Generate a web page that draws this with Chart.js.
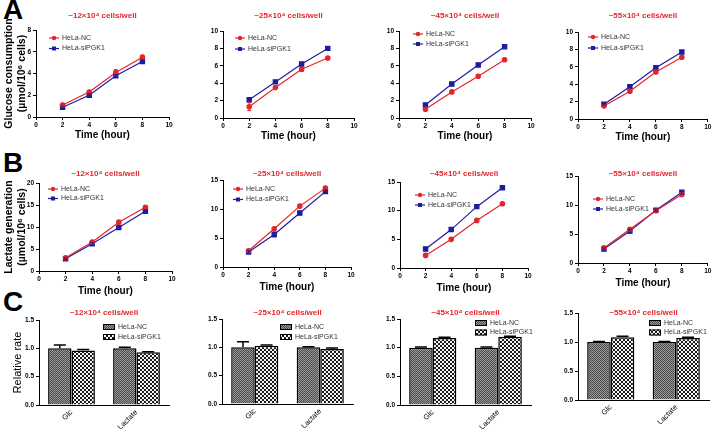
<!DOCTYPE html>
<html>
<head>
<meta charset="utf-8">
<script src="https://cdn.jsdelivr.net/npm/chart.js@4.4.0/dist/chart.umd.min.js"></script>
<style>
  body { margin: 0; width: 713px; height: 430px; background: #fff; position: relative; overflow: hidden; }
  canvas { position: absolute; }
  .tag { position: absolute; font: bold 28px "Liberation Sans", Arial, sans-serif; line-height: 1; color: #000; }
</style>
</head>
<body>
<div class="tag" style="left:3px;top:-4px">A</div>
<div class="tag" style="left:3px;top:149px">B</div>
<div class="tag" style="left:3px;top:288px">C</div>
<script>
// ---- data ----
const hours = [2, 4, 6, 8];
const densities = ["~12×10⁴ cells/well", "~25×10⁴ cells/well", "~45×10⁴ cells/well", "~55×10⁴ cells/well"];
const groups = ["HeLa-NC", "HeLa-siPGK1"];

// glucose consumption (µmol/10^6 cells), one row per cell density
const glcNC = [[1.1, 2.3, 4.1, 5.5], [1.3, 3.5, 5.6, 6.9], [1.0, 3.0, 4.8, 6.7], [1.5, 3.2, 5.4, 7.1]];
const glcNCErr = [[0.15, 0.1, 0.25, 0.2], [0.45, 0.1, 0.25, 0.1], [0.08, 0.05, 0.1, 0.05], [0.1, 0.1, 0.1, 0.1]];
const glcSi = [[0.9, 2.0, 3.8, 5.1], [2.1, 4.15, 6.2, 8.0], [1.5, 3.9, 6.1, 8.2], [1.7, 3.7, 5.9, 7.7]];
const glcSiErr = [[0.1, 0.15, 0.1, 0.15], [0.1, 0.1, 0.2, 0.1], [0.1, 0.1, 0.15, 0.1], [0.1, 0.1, 0.1, 0.1]];
const glcMax = [8, 10, 10, 10];

// lactate generation (µmol/10^6 cells)
const lacNC = [[3.0, 6.6, 11.1, 14.5], [2.8, 6.6, 10.5, 13.6], [2.2, 5.0, 8.3, 11.2], [2.6, 5.8, 9.0, 11.8]];
const lacNCErr = [[0.2, 0.2, 0.2, 0.3], [0.2, 0.2, 0.3, 0.2], [0.2, 0.2, 0.2, 0.2], [0.2, 0.2, 0.2, 0.2]];
const lacSi = [[2.8, 6.2, 9.9, 13.6], [2.6, 5.6, 9.3, 13.0], [3.3, 6.7, 10.7, 14.0], [2.4, 5.5, 9.1, 12.2]];
const lacSiErr = [[0.2, 0.3, 0.2, 0.3], [0.2, 0.4, 0.3, 0.3], [0.2, 0.2, 0.2, 0.2], [0.2, 0.3, 0.2, 0.3]];
const lacMax = [20, 15, 15, 15];

// relative rate (Glc, Lactate)
const relCategories = ["Glc", "Lactate"];
const relNC = [[1.0, 1.0], [1.0, 1.0], [1.0, 1.0], [1.0, 1.0]];
const relNCErr = [[0.06, 0.02], [0.1, 0.01], [0.01, 0.01], [0.01, 0.01]];
const relSi = [[0.96, 0.93], [1.03, 0.97], [1.17, 1.19], [1.08, 1.07]];
const relSiErr = [[0.02, 0.01], [0.01, 0.02], [0.01, 0.01], [0.02, 0.01]];

// ---- layout (page pixels) ----
const boxes = {
  A: [[0, 0, 180, 145], [180, 0, 180, 145], [360, 0, 177, 145], [537, 0, 176, 145]],
  B: [[0, 140, 180, 157], [180, 140, 180, 157], [360, 140, 177, 157], [537, 140, 176, 157]],
  C: [[0, 297, 180, 133], [180, 297, 180, 133], [360, 297, 177, 133], [537, 297, 176, 133]]
};
const plots = {
  A: [[36, 30, 169, 117], [223, 31, 354, 118], [399, 31, 531, 118], [578, 32, 709, 119]],
  B: [[39, 183, 172, 271], [223, 180, 351, 267], [400, 182, 528, 268], [578, 176, 708, 263]],
  C: [[39, 320, 169, 405], [222, 319, 353, 404], [400, 319, 531, 405], [578, 313, 709, 400]]
};
const legends = {
  A: [[49, 38, 10.5], [235, 38, 11], [413, 34, 10], [588, 37, 11]],
  B: [[48, 189, 9.5], [233, 189, 10.5], [415, 195, 10], [593, 199, 10]],
  C: [[103, 327, 10], [280, 327, 10], [475, 323, 9.5], [649, 323, 9.5]]
};
const titleY = { A: 16, B: 174, C: 313 };

const RED = "#e3262c", BLUE = "#1d1d9e";
const FAMILY = '"Liberation Sans", Arial, sans-serif';
Chart.defaults.font.family = FAMILY;
Chart.defaults.color = "#000";

function pattern(size, cells) {
  const c = document.createElement("canvas");
  c.width = size; c.height = size;
  const g = c.getContext("2d");
  cells(g);
  return g.createPattern(c, "repeat");
}
const ncFill = pattern(2, g => {
  g.fillStyle = "#9a9a9a"; g.fillRect(0, 0, 2, 2);
  g.fillStyle = "#4a4a4a"; g.fillRect(0, 0, 1, 1); g.fillRect(1, 1, 1, 1);
});
const siFill = pattern(4, g => {
  g.fillStyle = "#f4f4f4"; g.fillRect(0, 0, 4, 4);
  g.fillStyle = "#1a1a1a"; g.fillRect(0, 0, 2, 2); g.fillRect(2, 2, 2, 2);
});

// ---- plugins ----
const errorBars = {
  id: "errorBars",
  afterDatasetsDraw(chart) {
    const ctx = chart.ctx, ys = chart.scales.y;
    chart.data.datasets.forEach((ds, i) => {
      if (!ds.errors) return;
      const meta = chart.getDatasetMeta(i);
      const isBar = meta.type === "bar";
      ctx.save();
      ctx.strokeStyle = isBar ? "#000" : ds.borderColor;
      ctx.lineWidth = isBar ? 1.5 : 1;
      meta.data.forEach((el, j) => {
        const raw = ds.data[j];
        const v = typeof raw === "object" ? raw.y : raw;
        const e = ds.errors[j];
        const top = ys.getPixelForValue(v + e);
        const bottom = isBar ? ys.getPixelForValue(v) : ys.getPixelForValue(v - e);
        const cap = isBar ? 6 : 2;
        ctx.beginPath();
        ctx.moveTo(el.x, bottom); ctx.lineTo(el.x, top);
        ctx.moveTo(el.x - cap, top); ctx.lineTo(el.x + cap, top);
        if (!isBar) { ctx.moveTo(el.x - cap, bottom); ctx.lineTo(el.x + cap, bottom); }
        ctx.stroke();
      });
      ctx.restore();
    });
  }
};

const miniLegend = {
  id: "miniLegend",
  afterDraw(chart, args, opts) {
    if (opts.x === undefined) return;
    const ctx = chart.ctx;
    ctx.save();
    ctx.font = "7px " + FAMILY;
    ctx.textBaseline = "middle";
    chart.data.datasets.forEach((ds, i) => {
      const y = opts.y + i * opts.gap;
      if (opts.kind === "bar") {
        ctx.fillStyle = ds.backgroundColor;
        ctx.fillRect(opts.x, y - 3, 12, 6);
        ctx.strokeStyle = "#000"; ctx.lineWidth = 1;
        ctx.strokeRect(opts.x + 0.5, y - 2.5, 11, 5);
        ctx.fillStyle = "#333";
        ctx.fillText(ds.label, opts.x + 15, y);
      } else {
        ctx.strokeStyle = ds.borderColor; ctx.lineWidth = 1.2;
        ctx.beginPath(); ctx.moveTo(opts.x, y); ctx.lineTo(opts.x + 10, y); ctx.stroke();
        ctx.fillStyle = ds.borderColor;
        if (ds.pointStyle === "rect") ctx.fillRect(opts.x + 3, y - 2, 4, 4);
        else { ctx.beginPath(); ctx.arc(opts.x + 5, y, 2.2, 0, Math.PI * 2); ctx.fill(); }
        ctx.fillStyle = "#333";
        ctx.fillText(ds.label, opts.x + 13, y);
      }
    });
    ctx.restore();
  }
};

const panelTitle = {
  id: "panelTitle",
  afterDraw(chart, args, opts) {
    if (!opts.text) return;
    const ctx = chart.ctx, a = chart.chartArea;
    ctx.save();
    ctx.font = "bold 8px " + FAMILY;
    ctx.fillStyle = RED;
    ctx.textAlign = "center";
    ctx.textBaseline = "middle";
    ctx.fillText(opts.text, (a.left + a.right) / 2, opts.y);
    ctx.restore();
  }
};
Chart.register(errorBars, miniLegend, panelTitle);

// ---- builders ----
function makeCanvas(box) {
  const c = document.createElement("canvas");
  c.width = box[2]; c.height = box[3];
  c.style.left = box[0] + "px"; c.style.top = box[1] + "px";
  c.style.width = box[2] + "px"; c.style.height = box[3] + "px";
  document.body.appendChild(c);
  return c;
}

const tickFont = { size: 6.5, weight: "bold" };
const axisLook = {
  grid: { drawOnChartArea: false, color: "#000", tickLength: 3, tickWidth: 1 },
  border: { color: "#000", width: 1 }
};

function build(row, col, type, datasets, yMax, yStep, yTitle, yTitleFont, yTitlePad) {
  const box = boxes[row][col], plot = plots[row][col], lg = legends[row][col];
  const yW = col === 0 ? plot[0] - box[0] : 18;
  const xH = row === "B" ? 26 : 24;
  const padding = {
    left: plot[0] - box[0] - yW,
    top: plot[1] - box[1],
    right: box[0] + box[2] - plot[2],
    bottom: box[1] + box[3] - plot[3] - xH
  };
  const xScale = type === "bar"
    ? {
        type: "category",
        ticks: { font: { size: 7.5 }, color: "#000", minRotation: 45, maxRotation: 45, padding: 3 },
        grid: { drawOnChartArea: false, drawTicks: false, color: "#000" },
        border: { color: "#000", width: 1 },
        afterFit: s => { s.height = xH; }
      }
    : {
        type: "linear", min: 0, max: 10,
        ticks: { stepSize: 2, font: tickFont, color: "#000", padding: 1, maxRotation: 0 },
        ...axisLook,
        title: { display: true, text: "Time (hour)", font: { size: 10, weight: "bold" }, color: "#000", padding: 0 },
        afterFit: s => { s.height = xH; }
      };
  new Chart(makeCanvas(box), {
    type: type,
    data: { labels: type === "bar" ? relCategories : undefined, datasets: datasets },
    options: {
      responsive: false,
      animation: false,
      layout: { padding: padding },
      scales: {
        x: xScale,
        y: {
          min: 0, max: yMax,
          ticks: {
            stepSize: yStep, font: tickFont, color: "#000", padding: 2,
            callback: v => type === "bar" ? v.toFixed(1) : v
          },
          ...axisLook,
          title: col === 0
            ? { display: true, text: yTitle, font: yTitleFont, color: "#000", padding: { top: yTitlePad, bottom: 0 } }
            : { display: false },
          afterFit: s => { s.width = yW; }
        }
      },
      plugins: {
        legend: { display: false },
        tooltip: { enabled: false },
        miniLegend: {
          kind: type,
          x: lg[0] - box[0], y: lg[1] - box[1], gap: lg[2]
        },
        panelTitle: { text: densities[col], y: titleY[row] - box[1] }
      }
    }
  });
}

function lineSets(nc, ncErr, si, siErr) {
  return [
    {
      label: groups[0], data: hours.map((h, i) => ({ x: h, y: nc[i] })), errors: ncErr,
      borderColor: RED, backgroundColor: RED, borderWidth: 1.2,
      pointStyle: "circle", pointRadius: 2.2
    },
    {
      label: groups[1], data: hours.map((h, i) => ({ x: h, y: si[i] })), errors: siErr,
      borderColor: BLUE, backgroundColor: BLUE, borderWidth: 1.2,
      pointStyle: "rect", pointRadius: 3
    }
  ];
}

function barSets(nc, ncErr, si, siErr) {
  return [
    {
      label: groups[0], data: nc, errors: ncErr, backgroundColor: ncFill,
      borderColor: "#000", borderWidth: 1.5, categoryPercentage: 0.72, barPercentage: 1.0
    },
    {
      label: groups[1], data: si, errors: siErr, backgroundColor: siFill,
      borderColor: "#000", borderWidth: 1.5, categoryPercentage: 0.72, barPercentage: 1.0
    }
  ];
}

const yTitleBold = { size: 10.5, weight: "bold" };
for (let c = 0; c < 4; c++) {
  build("A", c, "line", lineSets(glcNC[c], glcNCErr[c], glcSi[c], glcSiErr[c]),
    glcMax[c], 2, ["Glucose consumption", "(µmol/10⁶ cells)"], yTitleBold, 3);
  build("B", c, "line", lineSets(lacNC[c], lacNCErr[c], lacSi[c], lacSiErr[c]),
    lacMax[c], 5, ["Lactate generation", "(µmol/10⁶ cells)"], yTitleBold, 3);
  build("C", c, "bar", barSets(relNC[c], relNCErr[c], relSi[c], relSiErr[c]),
    1.5, 0.5, "Relative rate", { size: 11 }, 11);
}
</script>
</body>
</html>
